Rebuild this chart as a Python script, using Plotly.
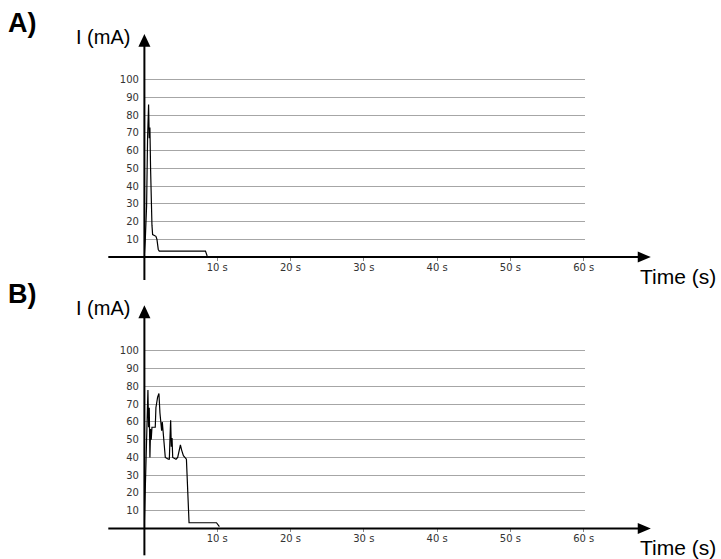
import plotly.graph_objects as go

# ---- data ----
time_a = [0, 0.05, 0.18, 0.37, 0.5, 0.64, 0.73, 0.82, 0.91, 1.0, 1.1, 1.19, 1.64, 1.78, 1.96, 2.1, 8.4, 8.63]
current_a = [0, 0.6, 9, 29, 67, 86, 67, 73, 50, 31, 18, 12.7, 11.7, 10, 4.3, 3.4, 3.4, 0.6]

time_b = [0.05, 0.18, 0.27, 0.41, 0.55, 0.64, 0.73, 0.82, 0.91, 1.0, 1.1, 1.55, 1.64, 1.87, 2.05, 2.19,
          2.28, 2.42, 2.51, 2.65, 2.79, 2.92, 3.33, 3.47, 3.56, 3.65, 3.74, 3.84, 3.93, 4.38, 4.61, 4.79,
          4.98, 5.16, 5.39, 5.8, 5.89, 6.07, 6.16, 9.9, 10.3]
current_b = [1, 19.7, 34.7, 55, 78, 57, 68, 40, 56, 50, 57, 57, 68, 74, 76, 65,
             60, 55, 60, 53, 46, 40, 39, 39, 51, 61, 46, 51, 40, 39, 40, 44,
             47, 44, 41, 39, 29, 8.4, 3.2, 3.2, 1]

x_ticks = [10, 20, 30, 40, 50, 60]
x_tick_labels = ["10 s", "20 s", "30 s", "40 s", "50 s", "60 s"]
y_ticks = [10, 20, 30, 40, 50, 60, 70, 80, 90, 100]
y_tick_labels = [str(v) for v in y_ticks]

panel_labels = ["A)", "B)"]
y_title = "I (mA)"
x_title = "Time (s)"

# ---- layout geometry (target picture pixels) ----
PIC_W, PIC_H = 721, 559
W, H = 733, 559      # figure size (the capture squeezes the width slightly)
X0 = 143.5          # pixel of t = 0
PX_PER_S = 7.31
X_RIGHT = 583       # right end of gridlines
PX_PER_MA = 1.781
ZERO_Y = [256, 528.3]   # pixel row of I = 0 for panels A and B
Y_TOP_VAL = 102

def px(x):
    return x / PIC_W

def py(y):
    return 1 - y / PIC_H

fig = go.Figure()
shapes = []
annotations = []

axis_font = dict(family="DejaVu Sans", size=10, color="#333333")
data_sets = [(time_a, current_a), (time_b, current_b)]

for i, (t, c) in enumerate(data_sets):
    n = "" if i == 0 else str(i + 1)
    z = ZERO_Y[i]
    top = z - Y_TOP_VAL * PX_PER_MA
    fig.add_trace(go.Scatter(x=t, y=c, mode="lines", xaxis="x" + n, yaxis="y" + n,
                             line=dict(color="black", width=1.2), showlegend=False,
                             hoverinfo="skip"))
    fig.update_layout(**{
        "xaxis" + n: dict(domain=[px(X0), px(X_RIGHT)], range=[0, (X_RIGHT - X0) / PX_PER_S],
                          anchor="y" + n, tickvals=x_ticks, ticktext=x_tick_labels,
                          showgrid=False, zeroline=False, showline=False,
                          ticks="outside", ticklen=3, tickcolor="#888888", tickwidth=1,
                          ticklabelstandoff=-2, tickfont=axis_font, fixedrange=True),
        "yaxis" + n: dict(domain=[py(z), py(top)], range=[0, Y_TOP_VAL], anchor="x" + n,
                          tickvals=y_ticks, ticktext=y_tick_labels,
                          showgrid=True, gridcolor="#a6a6a6", gridwidth=1,
                          zeroline=False, showline=False, ticks="",
                          ticklabelstandoff=4, tickfont=axis_font, fixedrange=True),
    })
    # x axis line with arrow
    shapes.append(dict(type="line", xref="paper", yref="paper", x0=px(108), x1=px(638),
                       y0=py(z), y1=py(z), line=dict(color="black", width=2)))
    shapes.append(dict(type="path", xref="paper", yref="paper",
                       path=f"M {px(649)} {py(z)} L {px(636)} {py(z - 5.5)} L {px(636)} {py(z + 5.5)} Z",
                       fillcolor="black", line=dict(color="black", width=0)))
    # y axis line with arrow
    tip = z - 224
    bottom = z + (23 if i == 0 else 27)
    shapes.append(dict(type="line", xref="paper", yref="paper", x0=px(144), x1=px(144),
                       y0=py(bottom), y1=py(tip + 11), line=dict(color="black", width=2)))
    shapes.append(dict(type="path", xref="paper", yref="paper",
                       path=f"M {px(144)} {py(tip)} L {px(138)} {py(tip + 13)} L {px(150)} {py(tip + 13)} Z",
                       fillcolor="black", line=dict(color="black", width=0)))
    # texts
    annotations.append(dict(text=panel_labels[i], xref="paper", yref="paper", x=px(6), y=py(z - 235),
                            xanchor="left", yanchor="middle", showarrow=False,
                            font=dict(family="Liberation Sans", size=27, color="black", weight="bold")))
    annotations.append(dict(text=y_title, xref="paper", yref="paper", x=px(74), y=py(tip + 3),
                            xanchor="left", yanchor="middle", showarrow=False,
                            font=dict(family="Liberation Sans", size=20, color="black")))
    annotations.append(dict(text=x_title, xref="paper", yref="paper", x=px(636), y=py(z + 19),
                            xanchor="left", yanchor="middle", showarrow=False,
                            font=dict(family="Liberation Sans", size=21, color="black")))

fig.update_layout(width=W, height=H, margin=dict(l=0, r=0, t=0, b=0),
                  paper_bgcolor="white", plot_bgcolor="white",
                  shapes=shapes, annotations=annotations)

page_fix = ("document.documentElement.style.margin='0';document.documentElement.style.padding='0';"
            "document.documentElement.style.overflow='hidden';"
            "document.body.style.margin='0';document.body.style.padding='0';"
            "document.body.style.overflow='hidden';")

fig.write_html("out.html", config={"responsive": False, "displayModeBar": False},
               post_script=page_fix)
